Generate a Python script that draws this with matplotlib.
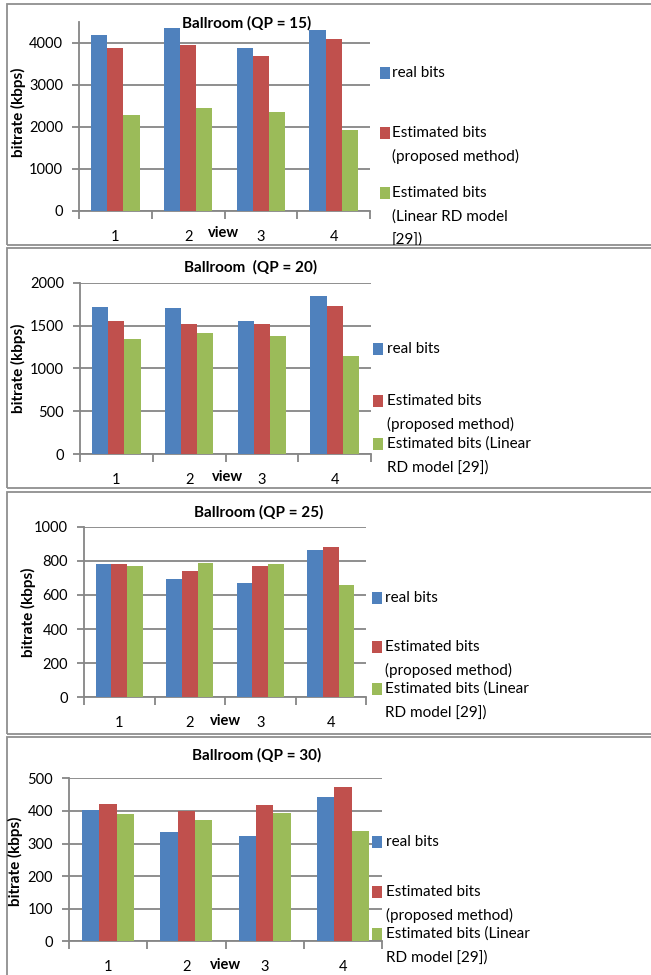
import matplotlib
matplotlib.use("Agg")
import matplotlib.pyplot as plt
from matplotlib.patches import Rectangle
from matplotlib.transforms import Bbox, TransformedBbox
import numpy as np

plt.rcParams['font.family'] = ['Lato', 'DejaVu Sans']

# ---------------- data ----------------
views = ['1', '2', '3', '4']
series_names = ['real bits', 'Estimated bits (proposed method)', 'Estimated bits (Linear RD model [29])']
colors = ['#4F81BD', '#C0504D', '#9BBB59']

qp15_real = [4170, 4340, 3865, 4300]
qp15_prop = [3880, 3945, 3690, 4080]
qp15_lin = [2280, 2450, 2345, 1925]

qp20_real = [1716, 1704, 1549, 1844]
qp20_prop = [1556, 1521, 1514, 1728]
qp20_lin = [1342, 1416, 1377, 1140]

qp25_real = [783, 693, 670, 861]
qp25_prop = [781, 740, 770, 879]
qp25_lin = [768, 787, 781, 658]

qp30_real = [403, 334, 324, 443]
qp30_prop = [420, 400, 417, 472]
qp30_lin = [390, 372, 394, 339]

titles = ['Ballroom (QP = 15)', 'Ballroom  (QP = 20)', 'Ballroom (QP = 25)', 'Ballroom (QP = 30)']
y_maxes = [4500, 2000, 1000, 500]
y_steps = [1000, 500, 200, 100]
y_tops = [4000, 2000, 1000, 500]

legend_labels_p1 = ['real bits', 'Estimated bits\n(proposed method)', 'Estimated bits\n(Linear RD model\n[29])']
legend_labels_px = ['real bits', 'Estimated bits\n(proposed method)', 'Estimated bits (Linear\nRD model [29])']

# ---------------- layout (pixels) ----------------
W, H = 651, 975
fig = plt.figure(figsize=(W / 100, H / 100), dpi=100)


def fx(x):
    return x / W


def fy(y):
    return 1 - y / H


panels = [
    dict(data=(qp15_real, qp15_prop, qp15_lin), ax=(79, 370, 21.6, 211), border=(7, 4, 660, 245),
         title=(247, 23), ylab=(18, 112), view=(223, 233), legend=legend_labels_p1,
         leg_x=(380, 392), leg_y=[73, 133, 193]),
    dict(data=(qp20_real, qp20_prop, qp20_lin), ax=(80, 371, 282.7, 454), border=(7, 248, 660, 488),
         title=(251, 267), ylab=(18, 368), view=(227, 477), legend=legend_labels_px,
         leg_x=(373, 387), leg_y=[349, 401, 444]),
    dict(data=(qp25_real, qp25_prop, qp25_lin), ax=(84, 366, 526.7, 697.3), border=(7, 492, 660, 734),
         title=(259, 512), ylab=(28, 612), view=(225, 721), legend=legend_labels_px,
         leg_x=(372, 385), leg_y=[598, 647, 689]),
    dict(data=(qp30_real, qp30_prop, qp30_lin), ax=(69, 382, 778.3, 941.3), border=(7, 737, 660, 990),
         title=(257, 755), ylab=(15, 861), view=(225, 965), legend=legend_labels_px,
         leg_x=(372, 386), leg_y=[842, 892, 934]),
]

grid_col = '#868686'
line_step = 23.5

for i, p in enumerate(panels):
    bx0, by0, bx1, by1 = p['border']
    fig.patches.append(Rectangle((fx(bx0), fy(by1)), fx(bx1) - fx(bx0), fy(by0) - fy(by1),
                                 transform=fig.transFigure, fill=False, edgecolor='#8f8f8f',
                                 linewidth=1.3, zorder=0))
    x0, x1, yt, yb = p['ax']
    ax = fig.add_axes([fx(x0), fy(yb), fx(x1) - fx(x0), fy(yt) - fy(yb)])
    n = len(views)
    xs = np.arange(n)
    w = 1 / 4.5
    for k, (vals, c) in enumerate(zip(p['data'], colors)):
        ax.bar(xs + (k - 1) * w, vals, width=w, color=c, zorder=3, linewidth=0)
    ax.set_xlim(-0.5, n - 0.5)
    ax.set_ylim(0, y_maxes[i])
    ax.set_yticks(np.arange(0, y_tops[i] + 1, y_steps[i]))
    ax.yaxis.grid(True, color=grid_col, linewidth=1.3, zorder=0)
    ax.set_axisbelow(True)
    for s in ['top', 'right']:
        ax.spines[s].set_visible(False)
    for s in ['left', 'bottom']:
        ax.spines[s].set_color(grid_col)
        ax.spines[s].set_linewidth(1.3)
    ax.set_xticks(np.arange(-0.5, n, 1.0))
    ax.set_xticklabels([])
    ax.set_xticks(xs, minor=True)
    ax.set_xticklabels(views, minor=True, fontsize=10.5)
    ax.tick_params(axis='x', which='major', length=6, color=grid_col, width=1.3)
    ax.tick_params(axis='x', which='minor', length=0, pad=13.5)
    ax.tick_params(axis='y', length=5, color=grid_col, width=1.3, pad=6.5, labelsize=10.5)
    ax.set_facecolor('none')

    fig.text(fx(p['title'][0]), fy(p['title'][1]), titles[i], ha='center', va='center',
             fontsize=11, fontweight='bold')
    fig.text(fx(p['ylab'][0]), fy(p['ylab'][1]), 'bitrate (kbps)', ha='center', va='center',
             rotation=90, fontsize=11, fontweight='bold')
    fig.text(fx(p['view'][0]), fy(p['view'][1]), 'view', ha='center', va='center',
             fontsize=10.5, fontweight='bold')

    clip = TransformedBbox(Bbox.from_extents(fx(bx0), fy(by1), fx(bx1), fy(by0)), fig.transFigure)
    mx, tx = p['leg_x']
    for lab, ly, c in zip(p['legend'], p['leg_y'], colors):
        fig.patches.append(Rectangle((fx(mx), fy(ly + 6)), fx(10), 12 / H,
                                     transform=fig.transFigure, facecolor=c, edgecolor='none', zorder=5))
        for j, line in enumerate(lab.split('\n')):
            t = fig.text(fx(tx), fy(ly + j * line_step), line, ha='left', va='center', fontsize=11)
            t.set_clip_box(clip)
            t.set_clip_on(True)

fig.savefig('out.png', dpi=100)
